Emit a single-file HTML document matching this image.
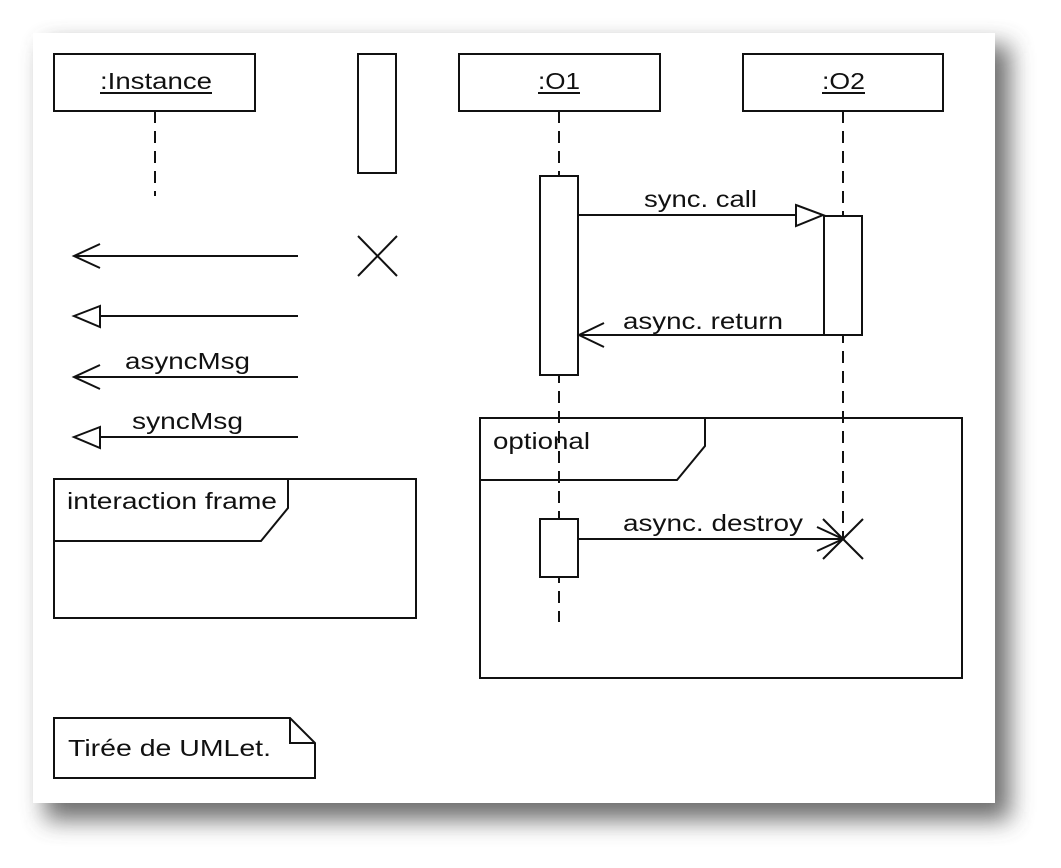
<!DOCTYPE html>
<html><head><meta charset="utf-8"><style>
html,body{margin:0;padding:0;background:#fff;width:1061px;height:868px;overflow:hidden}
svg{display:block}
text{font-family:"Liberation Sans",sans-serif;font-size:23px;fill:#111}
</style></head><body>
<svg width="1061" height="868" xmlns="http://www.w3.org/2000/svg">
<defs>
<filter id="sh" x="-10%" y="-10%" width="130%" height="130%">
<feGaussianBlur stdDeviation="12"/>
</filter>
</defs>
<rect x="45" y="45" width="965" height="775" fill="#555" filter="url(#sh)" opacity="0.85"/>
<rect x="33" y="33" width="962" height="770" fill="#fff"/>
<g stroke="#111" stroke-width="2" fill="none">
<rect x="54" y="54" width="201" height="57" fill="#fff"/>
<line x1="155" y1="111" x2="155" y2="196" stroke-dasharray="12,8"/>
<rect x="358" y="54" width="38" height="119"/>
<rect x="459" y="54" width="201" height="57"/>
<rect x="743" y="54" width="200" height="57"/>
<line x1="559" y1="111" x2="559" y2="622" stroke-dasharray="12,8"/>
<line x1="843" y1="111" x2="843" y2="540" stroke-dasharray="12,8"/>
<rect x="540" y="176" width="38" height="199" fill="#fff"/>
<rect x="824" y="216" width="38" height="119" fill="#fff"/>
<line x1="578" y1="215" x2="796" y2="215"/>
<polygon points="796,205 823,215 796,226"/>
<line x1="823" y1="335" x2="579" y2="335"/>
<polyline points="604,323 579,335 604,347"/>
<line x1="298" y1="256" x2="74" y2="256"/>
<polyline points="100,244 74,256 100,268"/>
<line x1="298" y1="316" x2="100" y2="316"/>
<polygon points="100,306 74,316 100,327"/>
<line x1="298" y1="377" x2="74" y2="377"/>
<polyline points="100,365 74,377 100,389"/>
<line x1="298" y1="437" x2="100" y2="437"/>
<polygon points="100,427 74,437 100,448"/>
<line x1="358" y1="236" x2="397" y2="276"/>
<line x1="397" y1="236" x2="358" y2="276"/>
<rect x="54" y="479" width="362" height="139"/>
<polyline points="54,541 261,541 288,508 288,479"/>
<rect x="480" y="418" width="482" height="260"/>
<polyline points="480,480 677,480 705,446 705,418"/>
<rect x="540" y="519" width="38" height="58" fill="#fff"/>
<line x1="578" y1="539" x2="843" y2="539"/>
<polyline points="817,527 843,539 817,551"/>
<line x1="823" y1="519" x2="863" y2="559"/>
<line x1="863" y1="519" x2="823" y2="559"/>
<polygon points="54,718 290,718 315,743 315,778 54,778" fill="#fff"/>
<polyline points="290,718 290,743 315,743"/>
</g>
<g>
<text x="100" y="89" textLength="112" lengthAdjust="spacingAndGlyphs">:Instance</text>
<text x="538" y="89" textLength="42" lengthAdjust="spacingAndGlyphs">:O1</text>
<text x="822" y="89" textLength="43" lengthAdjust="spacingAndGlyphs">:O2</text>
<text x="644" y="207" textLength="113" lengthAdjust="spacingAndGlyphs">sync. call</text>
<text x="623" y="329" textLength="160" lengthAdjust="spacingAndGlyphs">async. return</text>
<text x="125" y="369" textLength="125" lengthAdjust="spacingAndGlyphs">asyncMsg</text>
<text x="132" y="429" textLength="111" lengthAdjust="spacingAndGlyphs">syncMsg</text>
<text x="67" y="509" textLength="210" lengthAdjust="spacingAndGlyphs">interaction frame</text>
<text x="493" y="449" textLength="97" lengthAdjust="spacingAndGlyphs">optional</text>
<text x="623" y="531" textLength="180" lengthAdjust="spacingAndGlyphs">async. destroy</text>
<text x="68" y="756" textLength="203" lengthAdjust="spacingAndGlyphs">Tirée de UMLet.</text>
</g>
<g stroke="#111" stroke-width="2">
<line x1="100" y1="93" x2="212" y2="93"/>
<line x1="538" y1="93" x2="580" y2="93"/>
<line x1="822" y1="93" x2="865" y2="93"/>
</g>
</svg>
</body></html>
